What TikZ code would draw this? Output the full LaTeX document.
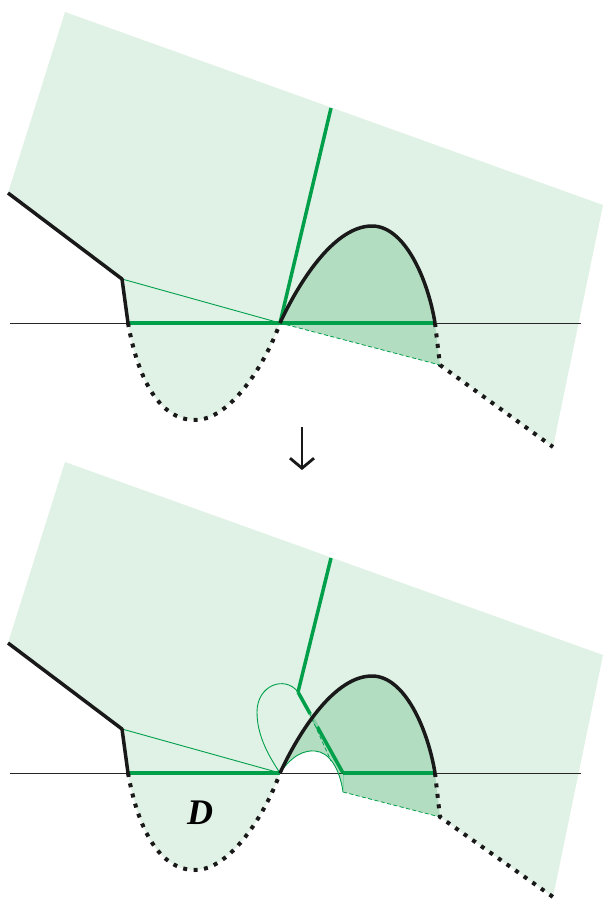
\documentclass[tikz,border=0pt]{standalone}
\usepackage{fontspec}
\newfontfamily\timesfont{Liberation Serif}
\usetikzlibrary{arrows.meta,calc}
\definecolor{lightg}{RGB}{224,241,229}
\definecolor{darkg}{RGB}{178,221,193}
\definecolor{lineg}{RGB}{0,160,75}
\begin{document}
\begin{tikzpicture}[x=1pt,y=-1pt,
  thickblack/.style={line width=3.5pt, black!90, line join=round},
  dotblack/.style={line width=4pt, black!90, dash pattern=on 4pt off 6.5pt},
  thickgreen/.style={line width=3.5pt, lineg},
  thingreen/.style={line width=0.9pt, lineg},
  axisline/.style={line width=0.9pt, black!85},
  hidgreen/.style={line width=0.8pt, lineg, dash pattern=on 4pt off 2.5pt}]
\useasboundingbox (0,0) rectangle (603,899);

% ---------------- top panel ----------------
\begin{scope}
  \coordinate (a-tl) at (65,12);
  \coordinate (a-tr) at (603,205);
  \coordinate (a-br) at (553,447);
  \coordinate (a-dr) at (440,365);
  \coordinate (a-o) at (280,323);
  \coordinate (a-ls) at (128,323);
  \coordinate (a-lk) at (122,279);
  \coordinate (a-le) at (8,193);
  \coordinate (a-hr) at (435,323);
  \coordinate (a-gtop) at (331,108);
  \coordinate (a-axl) at (10,323);
  \coordinate (a-axr) at (581,323);
  \fill[lightg] (a-tl) -- (a-tr) -- (a-br) -- (a-dr) -- (a-o)
     .. controls (265,365) and (230,420) .. (195,420)
     .. controls (160,420) and (138,380) .. (a-ls) -- (a-lk) -- (a-le) -- cycle;
  \fill[darkg] (a-o) .. controls (300,280) and (335,226) .. (372,226)
     .. controls (405,226) and (428,280) .. (a-hr) -- (a-dr) -- cycle;
  \draw[axisline] (a-axl) -- (a-axr);
  \draw[thingreen] (a-lk) -- (a-o);
  \draw[hidgreen] (a-o) -- (a-dr);
  \draw[thickgreen] (a-ls) -- (a-hr);
  \draw[thickgreen] (a-o) -- (a-gtop);
  \draw[thickblack] (a-le) -- (a-lk) -- (a-ls);
  \draw[thickblack] (a-o) .. controls (300,280) and (335,226) .. (372,226)
     .. controls (405,226) and (428,280) .. (a-hr);
  \draw[dotblack] (a-ls) .. controls (138,380) and (160,420) .. (195,420)
     .. controls (230,420) and (265,365) .. (a-o);
  \draw[dotblack] (a-hr) -- (a-dr) -- (a-br);
\end{scope}

% ---------------- arrow ----------------
\coordinate (arrtop) at (302,427);
\coordinate (arrbot) at (302,470);
\draw[line width=2.8pt, black!90, -{Straight Barb[length=10pt,width=24pt]}] (arrtop) -- (arrbot);

% ---------------- bottom panel ----------------
\begin{scope}[shift={(0,450)}]
  \coordinate (b-tl) at (65,12);
  \coordinate (b-tr) at (603,205);
  \coordinate (b-br) at (553,447);
  \coordinate (b-dr) at (440,367);
  \coordinate (b-o) at (280,323);
  \coordinate (b-ls) at (128,323);
  \coordinate (b-lk) at (122,279);
  \coordinate (b-le) at (8,193);
  \coordinate (b-hr) at (435,323);
  \coordinate (b-gtop) at (331,108);
  \coordinate (b-kink) at (298,242);
  \coordinate (b-foot) at (343,323);
  \coordinate (b-wend) at (343,342);
  \coordinate (b-axl) at (10,323);
  \coordinate (b-axr) at (581,323);
  \fill[lightg] (b-tl) -- (b-tr) -- (b-br) -- (b-dr) -- (b-wend)
     .. controls (340,320) and (330,302) .. (315,301)
     .. controls (305,300) and (292,305) .. (b-o)
     .. controls (265,365) and (230,420) .. (195,420)
     .. controls (160,420) and (138,380) .. (b-ls) -- (b-lk) -- (b-le) -- cycle;
  \fill[darkg] (b-o) .. controls (300,280) and (335,226) .. (372,226)
     .. controls (405,226) and (428,280) .. (b-hr) -- (b-dr) -- (b-wend)
     .. controls (340,320) and (330,302) .. (315,301)
     .. controls (305,300) and (292,305) .. (b-o) -- cycle;
  \draw[axisline] (b-axl) -- (b-axr);
  \draw[thingreen] (b-lk) -- (b-o);
  \draw[thingreen] (b-o) .. controls (268,305) and (257,285) .. (257,262)
     .. controls (257,235) and (285,225) .. (b-kink);
  \draw[thingreen] (b-o) .. controls (292,305) and (305,300) .. (315,301)
     .. controls (330,302) and (340,320) .. (b-wend);
  \draw[line width=0.6pt, lineg!45] (b-foot) -- (b-wend);
  \draw[hidgreen] (b-wend) -- (b-dr);
  \draw[hidgreen] (309,262) -- (331,311);
  \draw[thickgreen] (b-ls) -- (b-o);
  \draw[thickgreen] (b-foot) -- (b-hr);
  \draw[thickgreen] (b-gtop) -- (b-kink);
  \draw[thickgreen] (b-kink) -- ($(b-kink)!0.27!(b-foot)$);
  \draw[thickgreen, opacity=0.25] ($(b-kink)!0.27!(b-foot)$) -- ($(b-kink)!0.43!(b-foot)$);
  \draw[thickgreen] ($(b-kink)!0.43!(b-foot)$) -- (b-foot);
  \draw[thickblack] (b-le) -- (b-lk) -- (b-ls);
  \draw[thickblack] (b-o) .. controls (300,280) and (335,226) .. (372,226)
     .. controls (405,226) and (428,280) .. (b-hr);
  \draw[dotblack] (b-ls) .. controls (138,380) and (160,420) .. (195,420)
     .. controls (230,420) and (265,365) .. (b-o);
  \draw[dotblack] (b-hr) -- (b-dr) -- (b-br);
  \node[inner sep=0pt] (dlabel) at (200,363) {\timesfont\bfseries\itshape\fontsize{36}{36}\selectfont D};
\end{scope}
\end{tikzpicture}
\end{document}
